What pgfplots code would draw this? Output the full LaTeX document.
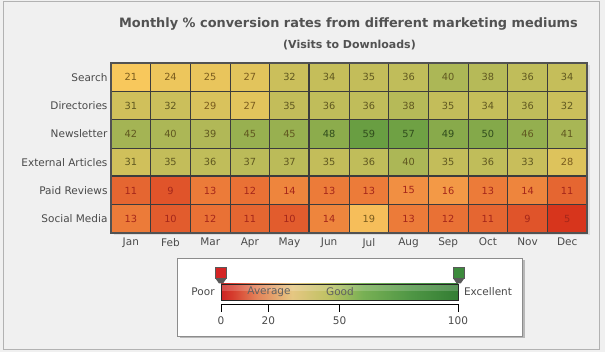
\documentclass[border=0pt]{standalone}
\usepackage{pgfplots}
\usepackage{pgfplotstable}
\pgfplotsset{compat=1.18}
\usepackage{fontspec}
\setmainfont{DejaVu Sans}
\definecolor{bg}{HTML}{F0F0F0}
\definecolor{txt}{HTML}{4A4A4A}
\definecolor{gridc}{HTML}{3C3C3C}
\definecolor{flagred}{HTML}{D42424}
\definecolor{flaggreen}{HTML}{3C8A3C}
\definecolor{tred}{RGB}{165,38,26}
\definecolor{tbrown}{RGB}{122,92,30}
\definecolor{tolive}{RGB}{96,88,32}
\definecolor{tgreen}{RGB}{48,76,28}
\pgfdeclarehorizontalshading{legendbar}{100bp}{rgb(0bp)=(0.80,0.14,0.14); rgb(25bp)=(0.80,0.14,0.14); rgb(27.5bp)=(0.84,0.24,0.18); rgb(32.5bp)=(0.89,0.51,0.35); rgb(40bp)=(0.90,0.78,0.51); rgb(47.5bp)=(0.75,0.76,0.39); rgb(55bp)=(0.47,0.69,0.33); rgb(65bp)=(0.31,0.59,0.27); rgb(75bp)=(0.2,0.49,0.2); rgb(100bp)=(0.2,0.49,0.2)}

\pgfplotstableread{
x y v
0 0 21
1 0 24
2 0 25
3 0 27
4 0 32
5 0 34
6 0 35
7 0 36
8 0 40
9 0 38
10 0 36
11 0 34
0 1 31
1 1 32
2 1 29
3 1 27
4 1 35
5 1 36
6 1 36
7 1 38
8 1 35
9 1 34
10 1 36
11 1 32
0 2 42
1 2 40
2 2 39
3 2 45
4 2 45
5 2 48
6 2 59
7 2 57
8 2 49
9 2 50
10 2 46
11 2 41
0 3 31
1 3 35
2 3 36
3 3 37
4 3 37
5 3 35
6 3 36
7 3 40
8 3 35
9 3 36
10 3 33
11 3 28
0 4 11
1 4 9
2 4 13
3 4 12
4 4 14
5 4 13
6 4 13
7 4 15
8 4 16
9 4 13
10 4 14
11 4 11
0 5 13
1 5 10
2 5 12
3 5 11
4 5 10
5 5 14
6 5 19
7 5 13
8 5 12
9 5 11
10 5 9
11 5 5
}\heat

\begin{document}
\begin{tikzpicture}[x=1pt,y=1pt]
\useasboundingbox (0,0) rectangle (605,352);
\fill[bg] (0,0) rectangle (605,352);
\draw[black!30, line width=0.8pt] (3.5,2.5) rectangle (599.5,350.5);
\node[font=\bfseries\fontsize{12.9}{15}\selectfont, text=black!68] at (348.5,328) {Monthly \% conversion rates from different marketing mediums};
\node[font=\bfseries\fontsize{11}{13}\selectfont, text=black!68] at (349.5,307) {(Visits to Downloads)};
\fill[black!14] (113.5,116.5) rectangle (589.5,286.5);
\begin{axis}[
  at={(111pt,119pt)}, anchor=south west, scale only axis,
  width=476pt, height=170pt,
  xmin=-0.5, xmax=11.5, ymin=-0.5, ymax=5.5, y dir=reverse,
  enlargelimits=false,
  xtick={0,...,11},
  xticklabels={Jan,Feb,Mar,Apr,May,Jun,Jul,Aug,Sep,Oct,Nov,Dec},
  ytick={0,...,5},
  yticklabels={Search,Directories,Newsletter,External Articles,Paid Reviews,Social Media},
  major tick length=0pt, minor tick length=0pt,
  minor xtick={0.5,1.5,...,10.5}, minor ytick={0.5,1.5,...,4.5},
  xminorgrids, yminorgrids,
  minor grid style={draw=gridc, line width=0.9pt},
  axis on top,
  axis line style={draw=black!68, line width=1.8pt},
  tick label style={font=\fontsize{10.5}{12}\selectfont, text=txt},
  xticklabel style={yshift=-1.5pt},
  colormap={heat}{rgb255(0)=(205,40,25) rgb255(5)=(215,53,28) rgb255(10)=(226,92,45) rgb255(13)=(236,123,57) rgb255(16)=(243,153,70) rgb255(19)=(246,190,90) rgb255(21)=(248,200,92) rgb255(27)=(226,196,92) rgb255(32)=(203,191,91) rgb255(36)=(192,189,90) rgb255(40)=(172,183,86) rgb255(45)=(152,176,80) rgb255(50)=(132,169,74) rgb255(60)=(102,157,65)},
  point meta min=0, point meta max=60,
]
\addplot[matrix plot*, mesh/cols=12, point meta=explicit] table[x=x,y=y,meta=v]{\heat};
\addplot[draw=none, mark=none, point meta=explicit symbolic,
  visualization depends on={\thisrow{v} \as \val},
  nodes near coords={\ifdim\val pt<17.5pt \color{tred}\else\ifdim\val pt<30.5pt \color{tbrown}\else\ifdim\val pt<46.5pt \color{tolive}\else\color{tgreen}\fi\fi\fi\pgfplotspointmeta},
  nodes near coords align={center},
  every node near coord/.append style={font=\fontsize{9.8}{11}\selectfont, anchor=center}]
  table[x=x,y=y,meta=v]{\heat};
\draw[gridc, line width=2pt] (axis cs:4.5,-0.5) -- (axis cs:4.5,5.5);
\draw[gridc, line width=2pt] (axis cs:-0.5,3.5) -- (axis cs:11.5,3.5);
\end{axis}
% legend box
\fill[black!28] (179.5,13.5) rectangle (524.5,91.5);
\filldraw[fill=white, draw=black!45, line width=0.8pt] (177,16) rectangle (522,94);
\shade[shading=legendbar] (221,52) rectangle (458,68);
\fill[white, opacity=0.18] (221,60.5) rectangle (458,68);
\draw[black!85, line width=0.8pt] (221,52) rectangle (458,68);
\node[font=\fontsize{10.5}{12}\selectfont, text=black!62] at (269,60) {Average};
\node[font=\fontsize{10.5}{12}\selectfont, text=black!62] at (340,60) {Good};
\node[font=\fontsize{10.5}{12}\selectfont, text=txt] at (203,60) {Poor};
\node[font=\fontsize{10.5}{12}\selectfont, text=txt] at (488,60) {Excellent};
% flags
\fill[black!65] (215.5,73.5) -- (226.5,73.5) -- (223,68.5) -- (219,68.5) -- cycle;
\filldraw[fill=flagred, draw=black!65, line width=0.9pt] (215.7,73.5) rectangle (226.3,85);
\fill[black!65] (453.2,73.5) -- (464.2,73.5) -- (460.7,68.5) -- (456.7,68.5) -- cycle;
\filldraw[fill=flaggreen, draw=black!65, line width=0.9pt] (453.4,73.5) rectangle (464,85);
% scale
\draw[black, line width=0.9pt] (221,47.5) -- (458,47.5);
\foreach \v in {0,20,50,100} {
  \draw[black, line width=0.9pt] ({221+2.37*\v},47.5) -- ({221+2.37*\v},40);
  \node[font=\fontsize{10.5}{12}\selectfont, text=txt] at ({221+2.37*\v},31.5) {\v};
}
\end{tikzpicture}
\end{document}
